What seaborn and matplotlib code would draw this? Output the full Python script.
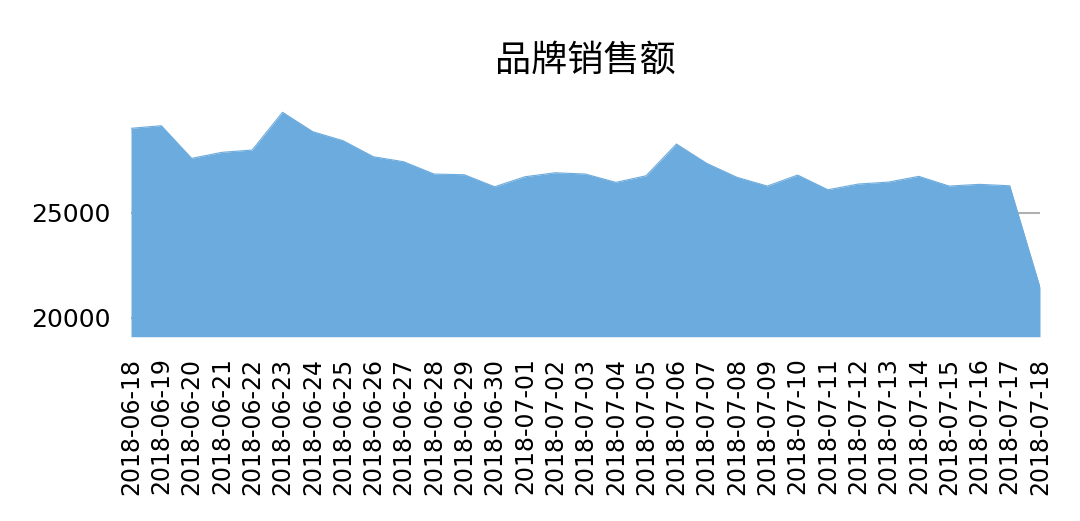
import matplotlib
matplotlib.use("Agg")
import matplotlib.pyplot as plt
import seaborn as sns
import pandas as pd
import numpy as np

dates = ["2018-06-18", "2018-06-19", "2018-06-20", "2018-06-21", "2018-06-22",
         "2018-06-23", "2018-06-24", "2018-06-25", "2018-06-26", "2018-06-27",
         "2018-06-28", "2018-06-29", "2018-06-30", "2018-07-01", "2018-07-02",
         "2018-07-03", "2018-07-04", "2018-07-05", "2018-07-06", "2018-07-07",
         "2018-07-08", "2018-07-09", "2018-07-10", "2018-07-11", "2018-07-12",
         "2018-07-13", "2018-07-14", "2018-07-15", "2018-07-16", "2018-07-17",
         "2018-07-18"]
sales = [29026, 29150, 27595, 27881, 27991, 29789, 28864, 28434, 27671, 27433,
         26846, 26813, 26240, 26717, 26908, 26846, 26450, 26765, 28277, 27356,
         26689, 26274, 26798, 26097, 26369, 26464, 26736, 26274, 26355, 26288,
         21442]
title = "品牌销售额"
yticks = [20000, 25000]

sns.set_style("white")
plt.rcParams['font.family'] = ['DejaVu Sans', 'Noto Sans CJK SC']
plt.rcParams['text.color'] = 'black'
plt.rcParams['xtick.color'] = 'black'
plt.rcParams['ytick.color'] = 'black'
plt.rcParams['axes.labelcolor'] = 'black'

df = pd.DataFrame({"date": dates, "sales": sales})
df["pos"] = np.arange(len(df))

fig = plt.figure(figsize=(10.8, 5.21), dpi=100)
ax = fig.add_axes([131/1080, 1-336.7/521, (1040-131)/1080, (336.7-86.9)/521])

color = "#6CABDD"
ax.yaxis.grid(True, color="#b0b0b0", linewidth=1.5)
ax.set_axisbelow(True)
ax.fill_between(df["pos"], df["sales"], 19094, color=color, linewidth=0, zorder=2)
sns.lineplot(data=df, x="pos", y="sales", color=color, linewidth=0.8, ax=ax, zorder=3)

ax.set_xlim(0, len(df) - 1)
ax.set_ylim(19094, 31000)
ax.set_xticks(df["pos"])
ax.set_xticklabels(df["date"], rotation=90, fontsize=17)
ax.set_yticks(yticks)
ax.set_yticklabels([str(v) for v in yticks], fontsize=18)
ax.tick_params(axis="both", length=0, colors="black")
ax.tick_params(axis="x", pad=15)
ax.tick_params(axis="y", pad=15)
ax.set_xlabel("")
ax.set_ylabel("")
for s in ax.spines.values():
    s.set_visible(False)

fig.text(585.5/1080, 1-61/521, title, ha="center", va="center", fontsize=26,
         color="black", family=["Noto Sans CJK SC", "DejaVu Sans"])

fig.savefig("out.png", dpi=100)
